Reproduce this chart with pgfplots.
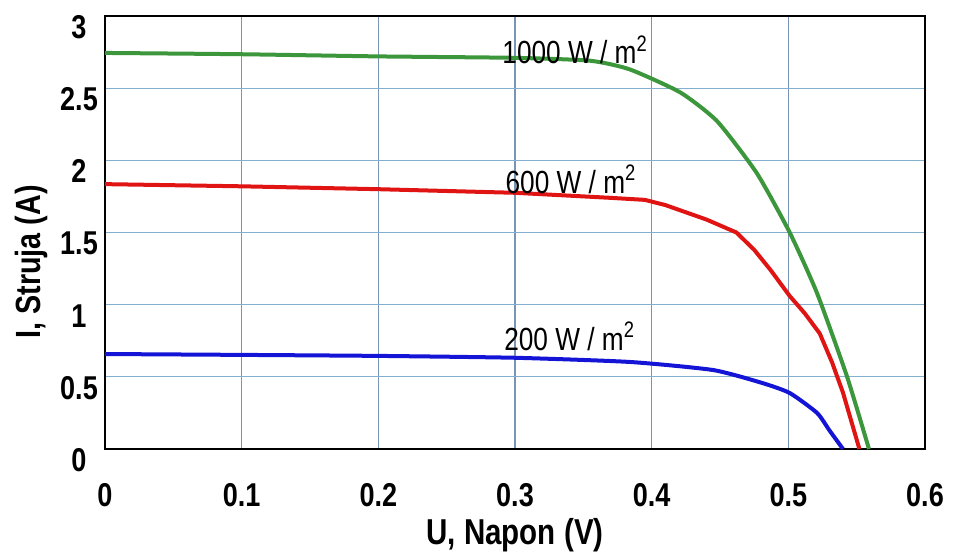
\documentclass[border=0pt]{standalone}
\usepackage{pgfplots}
\pgfplotsset{compat=1.18}
\usepackage{fontspec}
\setmainfont{Liberation Sans}
\newfontfamily\narrowfont[FakeStretch=0.82]{Liberation Sans}
\definecolor{gridv}{RGB}{120,150,180}
\definecolor{gridh}{RGB}{130,175,205}
\definecolor{cgreen}{RGB}{60,150,60}
\definecolor{cred}{RGB}{225,20,20}
\definecolor{cblue}{RGB}{20,20,215}
\begin{document}
\begin{tikzpicture}
\begin{axis}[
  scale only axis,
  width=410pt, height=216.5pt,
  xmin=0, xmax=0.6, ymin=0, ymax=3,
  xtick={0,0.1,0.2,0.3,0.4,0.5,0.6},
  xticklabels={0,0.1,0.2,0.3,0.4,0.5,0.6},
  ytick={0,0.5,1,1.5,2,2.5,3},
  yticklabels={0,0.5,1,1.5,2,2.5,3},
  major tick length=0pt,
  axis line style={black, line width=0.8pt},
  grid=major,
  x grid style={gridv, line width=0.6pt},
  y grid style={gridh, line width=0.6pt},
  /pgf/number format/assume math mode=true,
  ticklabel style={font=\narrowfont\bfseries\fontsize{16.5}{18}\selectfont},
  xticklabel style={yshift=-13.5pt},
  yticklabel style={anchor=center, xshift=-13pt, yshift=-5.5pt},
  xlabel={U, Napon (V)},
  ylabel={I, Struja (A)},
  xlabel style={font=\narrowfont\bfseries\fontsize{18}{20}\selectfont, at={(axis description cs:0.5,0)}, anchor=center, yshift=-43pt},
  ylabel style={font=\narrowfont\bfseries\fontsize{17.5}{19}\selectfont, at={(axis description cs:-0.09,0.432)}, anchor=center},
  clip=false,
]
\addplot[cgreen, line width=2pt, line join=round, smooth, tension=0.35] coordinates {
(0,2.744) (0.1,2.735) (0.2,2.72) (0.3,2.71) (0.355,2.69) (0.384,2.63)
(0.421,2.47) (0.448,2.27) (0.477,1.91) (0.501,1.50) (0.521,1.08)
(0.543,0.50) (0.559,0)};
\addplot[cred, line width=2pt, line join=round] coordinates {
(0,1.835) (0.1,1.82) (0.2,1.80) (0.3,1.775) (0.37,1.74) (0.395,1.726) (0.41,1.69)
(0.44,1.59) (0.462,1.50) (0.475,1.38) (0.487,1.24) (0.501,1.06) (0.512,0.94) (0.523,0.80)
(0.532,0.60) (0.540,0.39) (0.552,0)};
\addplot[cblue, line width=2pt, line join=round, smooth, tension=0.35] coordinates {
(0,0.658) (0.1,0.652) (0.2,0.645) (0.3,0.632) (0.384,0.603) (0.445,0.547)
(0.481,0.457) (0.501,0.388) (0.521,0.25) (0.530,0.13) (0.540,0)};
\node[font=\narrowfont\fontsize{16}{18}\selectfont] at (axis cs:0.344,2.765) {1000 W / m\textsuperscript{2}};
\node[font=\narrowfont\fontsize{16}{18}\selectfont] at (axis cs:0.341,1.87) {600 W / m\textsuperscript{2}};
\node[font=\narrowfont\fontsize{16}{18}\selectfont] at (axis cs:0.340,0.78) {200 W / m\textsuperscript{2}};
\coordinate (bl) at ([xshift=-52.5pt,yshift=-52.5pt]rel axis cs:0,0);
\coordinate (tr) at ([xshift=15pt,yshift=8pt]rel axis cs:1,1);
\end{axis}
\pgfresetboundingbox
\useasboundingbox (bl) rectangle (tr);
\end{tikzpicture}
\end{document}
